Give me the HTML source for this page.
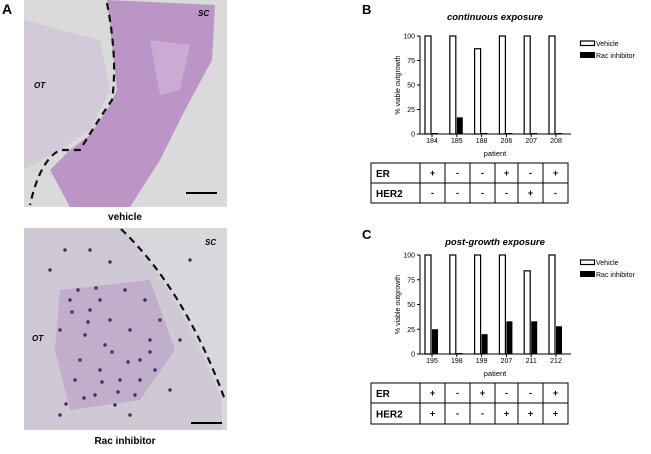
<!DOCTYPE html>
<html><head><meta charset="utf-8"><style>
body{margin:0;background:#fff;font-family:"Liberation Sans",sans-serif}
svg text{font-family:"Liberation Sans",sans-serif}
</style></head><body>
<svg id="fig" width="651" height="449" xmlns="http://www.w3.org/2000/svg">
<g>
<text x="2" y="14" font-size="14" font-weight="bold">A</text>
<g>
<rect x="24" y="0" width="203" height="207" fill="#dadada"/>
<path d="M24,20 L100,40 L110,90 L90,130 L60,150 L24,170Z" fill="#d2cad8"/>
<path d="M107,0 L215,5 L212,60 L185,110 L160,160 L130,207 L70,207 L50,170 L70,150 L90,135 L110,105 L117,90Z" fill="#bc95c7"/>
<path d="M150,40 L190,45 L180,90 L160,95Z" fill="#cbaad3"/>
<path d="M107,3 Q118,60 112,100 Q95,125 80,150 L60,150 Q40,160 30,205" fill="none" stroke="#111" stroke-width="2.2" stroke-dasharray="7,5"/>
<line x1="186" y1="193" x2="217" y2="193" stroke="#000" stroke-width="2"/>
<text x="198" y="16" font-size="8" font-style="italic" font-weight="bold">SC</text>
<text x="34" y="88" font-size="8" font-style="italic" font-weight="bold">OT</text>
</g>
<text x="125" y="220" font-size="10" font-weight="bold" text-anchor="middle">vehicle</text>
<g>
<rect x="24" y="228" width="203" height="202" fill="#d9d7db"/>
<path d="M24,228 L120,228 Q180,290 222,400 L222,430 L24,430Z" fill="#cfc8d5"/>
<path d="M60,290 L150,280 L175,350 L140,400 L70,410 L55,350Z" fill="#c0aecb"/>
<path d="M121,229 Q185,290 225,400" fill="none" stroke="#111" stroke-width="2.2" stroke-dasharray="7,5"/>
<line x1="191" y1="423" x2="222" y2="423" stroke="#000" stroke-width="2"/>
<text x="205" y="245" font-size="8" font-style="italic" font-weight="bold">SC</text>
<text x="32" y="341" font-size="8" font-style="italic" font-weight="bold">OT</text>
<g id="dots" fill="#3d2a6a"></g>
</g>
<text x="125" y="444" font-size="10" font-weight="bold" text-anchor="middle">Rac inhibitor</text>
</g>
<g id="chartB"></g>
<g id="chartC"></g>
</svg>
<script>
const patientsB=["184","185","188","206","207","208"];
const vehicleB=[100,100,87,100,100,100];
const racB=[1,17,1,1,1,1];
const erB=["+","-","-","+","-","+"];
const her2B=["-","-","-","-","+","-"];
const patientsC=["195","198","199","207","211","212"];
const vehicleC=[100,100,100,100,84,100];
const racC=[25,1,20,33,33,28];
const erC=["+","-","+","-","-","+"];
const her2C=["+","-","-","+","+","+"];
const yTicks=[0,25,50,75,100];
const NS="http://www.w3.org/2000/svg";
function mk(p,t,a,txt){const e=document.createElementNS(NS,t);for(const k in a)e.setAttribute(k,a[k]);if(txt!==undefined)e.textContent=txt;p.appendChild(e);return e;}
const dg=document.getElementById('dots');
[[70,300],[90,310],[110,320],[130,330],[150,340],[80,360],[100,370],[120,380],[140,360],[160,320],[95,395],[115,405],[135,395],[75,380],[60,330],[145,300],[125,290],[105,345],[85,335],[155,370],[170,390],[65,250],[90,250],[50,270],[180,340],[130,415],[100,300],[72,312],[88,322],[112,352],[128,362],[102,382],[118,392],[84,398],[66,404],[140,380],[150,352],[96,288],[78,290],[60,415],[190,260],[110,262]].forEach(p=>{mk(dg,'circle',{cx:p[0],cy:p[1],r:1.7});});
function chart(gid,letter,title,pats,veh,rac,er,her,oy,y100,y0,tab){
 const g=document.getElementById(gid);
 const ax=420,xEnd=571;
 const y=v=>y0-(y0-y100)*v/100;
 const cx=i=>432+i*24.8;
 const l=mk(g,'text',{x:362,y:oy+14,'font-size':13,'font-weight':'bold'},letter);
 
 
 const t=mk(g,'text',{x:495,y:oy+20,'font-size':9.5,'font-weight':'bold','font-style':'italic','text-anchor':'middle'},title);
 
 
 mk(g,'line',{x1:ax,y1:y100,x2:ax,y2:y0,stroke:'#000','stroke-width':1});
 mk(g,'line',{x1:ax,y1:y0,x2:xEnd,y2:y0,stroke:'#000','stroke-width':1});
 yTicks.forEach(v=>{mk(g,'line',{x1:ax-3,y1:y(v),x2:ax,y2:y(v),stroke:'#000'});
  const tl=mk(g,'text',{x:ax-5,y:y(v)+2.5,'font-size':7,'text-anchor':'end'},String(v));
  
  });
 const yt=mk(g,'text',{x:0,y:0,'font-size':7,'text-anchor':'middle',transform:`translate(400,${(y0+y100)/2}) rotate(-90)`},'% viable outgrowth');
 
 
 pats.forEach((p,i)=>{
  const b=mk(g,'rect',{x:cx(i)-7,y:y(veh[i]),width:6,height:y0-y(veh[i]),fill:'#fff',stroke:'#000','stroke-width':1.2});
  
  
  const r=mk(g,'rect',{x:cx(i),y:y(rac[i]),width:6,height:y0-y(rac[i]),fill:'#000'});
  
  
  mk(g,'line',{x1:cx(i),y1:y0,x2:cx(i),y2:y0+3,stroke:'#000'});
  const xl=mk(g,'text',{x:cx(i),y:y0+9,'font-size':7,'text-anchor':'middle'},p);
  
  
 });
 const xt=mk(g,'text',{x:495,y:y0+22,'font-size':7.5,'text-anchor':'middle'},'patient');
 
 
 const lg=mk(g,'g',{});
 
 
 mk(lg,'rect',{x:580.5,y:y100+5,width:14,height:4.5,fill:'#fff',stroke:'#000','stroke-width':1.2});
 mk(lg,'text',{x:596,y:y100+10,'font-size':7},'Vehicle');
 mk(lg,'rect',{x:580,y:y100+16,width:15,height:6,fill:'#000'});
 mk(lg,'text',{x:596,y:y100+22,'font-size':7},'Rac inhibitor');
 const tb=mk(g,'g',{});
 
 
 const [t0,t1,t2]=tab, cols=[371,420,445,470,495,518,543,568];
 mk(tb,'rect',{x:371,y:t0,width:197,height:t2-t0,fill:'none',stroke:'#000','stroke-width':1});
 mk(tb,'line',{x1:371,y1:t1,x2:568,y2:t1,stroke:'#000'});
 cols.slice(1,-1).forEach(c=>mk(tb,'line',{x1:c,y1:t0,x2:c,y2:t2,stroke:'#000'}));
 mk(tb,'text',{x:376,y:(t0+t1)/2+4,'font-size':10,'font-weight':'bold'},'ER');
 mk(tb,'text',{x:376,y:(t1+t2)/2+4,'font-size':10,'font-weight':'bold'},'HER2');
 [er,her].forEach((row,ri)=>{const yy=ri?(t1+t2)/2+3:(t0+t1)/2+3;
  row.forEach((s,i)=>{const c=mk(tb,'text',{x:(cols[i+1]+cols[i+2])/2,y:yy,'font-size':9,'font-weight':'bold','text-anchor':'middle'},s);
   
   });});
}
chart('chartB','B','continuous exposure',patientsB,vehicleB,racB,erB,her2B,0,36,134,[163,183,203]);
chart('chartC','C','post-growth exposure',patientsC,vehicleC,racC,erC,her2C,225,255,354,[383,403,424]);
</script>
</body></html>
